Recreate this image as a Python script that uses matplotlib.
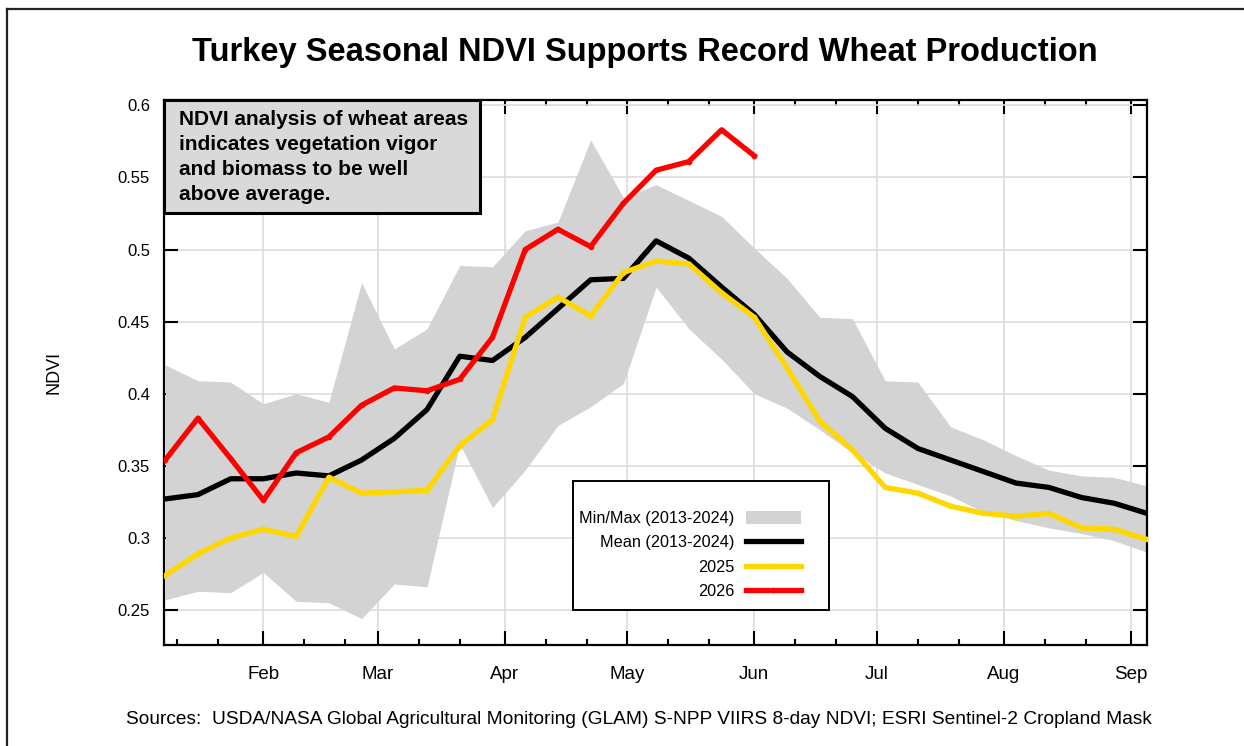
import matplotlib
matplotlib.use("Agg")
import matplotlib.pyplot as plt
from matplotlib.lines import Line2D
from matplotlib.patches import Rectangle, Patch

plt.rcParams['font.family'] = ['Liberation Sans', 'DejaVu Sans']

# day of year (Jan 1 = 0) of each 8-day composite
days = [7, 15, 23, 31, 39, 47, 55, 63, 71, 79, 87, 95, 103, 111, 119, 127,
        135, 143, 151, 159, 167, 175, 183, 191, 199, 207, 215, 223, 231, 239, 247]

ndvi_min = [0.257, 0.263, 0.262, 0.276, 0.256, 0.255, 0.244, 0.268, 0.266, 0.365,
            0.321, 0.347, 0.378, 0.391, 0.407, 0.474, 0.445, 0.424, 0.400, 0.390,
            0.375, 0.359, 0.345, 0.337, 0.329, 0.318, 0.312, 0.307, 0.303, 0.298, 0.290]
ndvi_max = [0.420, 0.409, 0.408, 0.393, 0.400, 0.394, 0.477, 0.431, 0.445, 0.489,
            0.488, 0.513, 0.519, 0.576, 0.536, 0.545, 0.534, 0.523, 0.501, 0.480,
            0.453, 0.452, 0.409, 0.408, 0.377, 0.368, 0.357, 0.347, 0.343, 0.342, 0.336]
ndvi_mean = [0.327, 0.330, 0.341, 0.341, 0.345, 0.343, 0.354, 0.369, 0.389, 0.426,
             0.423, 0.439, 0.459, 0.479, 0.480, 0.506, 0.494, 0.474, 0.455, 0.429,
             0.412, 0.398, 0.376, 0.362, 0.354, 0.346, 0.338, 0.335, 0.328, 0.324, 0.317]
ndvi_2025 = [0.274, 0.289, 0.300, 0.306, 0.301, 0.342, 0.331, 0.332, 0.333, 0.364,
             0.382, 0.453, 0.467, 0.454, 0.484, 0.492, 0.490, 0.470, 0.453, 0.418,
             0.381, 0.361, 0.335, 0.331, 0.322, 0.317, 0.315, 0.317, 0.307, 0.306, 0.299]
ndvi_2026 = [0.354, 0.383, 0.355, 0.326, 0.359, 0.370, 0.392, 0.404, 0.402, 0.410,
             0.439, 0.500, 0.514, 0.502, 0.532, 0.555, 0.561, 0.583, 0.565]

month_starts = [0, 31, 59, 90, 120, 151, 181, 212, 243]
month_labels = ['Feb', 'Mar', 'Apr', 'May', 'Jun', 'Jul', 'Aug', 'Sep']

fig = plt.figure(figsize=(12.44, 7.46), dpi=100)
ax = fig.add_axes([164 / 1244, 1 - 645 / 746, 983 / 1244, 545 / 746])

ax.fill_between(days, ndvi_min, ndvi_max, color='#d3d3d3', lw=0, zorder=1)
ax.plot(days, ndvi_mean, color='black', lw=3.8, zorder=3)
ax.plot(days, ndvi_2025, color='#ffd700', lw=3.8, marker='o', ms=3, zorder=4)
ax.plot(days[:len(ndvi_2026)], ndvi_2026, color='#ff0000', lw=3.8, marker='o', ms=3, zorder=5)

ax.set_xticks(month_starts[1:])
ax.set_xticklabels(month_labels)
ax.set_xticks([m + d for m in month_starts for d in (10, 20)], minor=True)
ax.set_yticks([0.25, 0.3, 0.35, 0.4, 0.45, 0.5, 0.55, 0.6])
ax.set_yticklabels(['0.25', '0.3', '0.35', '0.4', '0.45', '0.5', '0.55', '0.6'])
ax.set_xlim(6.7, 247)
ax.set_ylim(0.2257, 0.6037)
ax.tick_params(which='both', direction='in', top=True, right=True, width=1.5, colors='black')
ax.tick_params(axis='x', which='major', length=10, pad=15, labelsize=13.5)
ax.tick_params(axis='x', which='minor', length=4)
ax.tick_params(axis='y', which='major', length=10, pad=10, labelsize=12)
ax.grid(True, which='major', color='#dcdcdc', lw=1.2, zorder=0)
ax.set_axisbelow(True)
for s in ax.spines.values():
    s.set_linewidth(1.6)
ax.set_ylabel('NDVI', fontsize=13, labelpad=40)

# text box in top-left corner
ax.add_patch(Rectangle((0, 0.7927), 0.3215, 0.2073, transform=ax.transAxes,
                       facecolor='#d9d9d9', edgecolor='black', lw=2.2, zorder=6, clip_on=False))
ax.text(0.0153, 0.982, 'NDVI analysis of wheat areas\nindicates vegetation vigor\n'
        'and biomass to be well\nabove average.', transform=ax.transAxes,
        fontsize=15, fontweight='bold', va='top', ha='left', linespacing=1.4, zorder=7)

# legend box drawn by hand, entries placed inside it
fig.add_artist(Rectangle((573 / 1244, 1 - 610 / 746), 256 / 1244, 129 / 746,
                         transform=fig.transFigure, facecolor='white', edgecolor='black',
                         lw=1.4, zorder=5))
handles = [Patch(facecolor='#d3d3d3', edgecolor='none'),
           Line2D([], [], color='black', lw=3.8),
           Line2D([], [], color='#ffd700', lw=3.8, marker='o', ms=3),
           Line2D([], [], color='#ff0000', lw=3.8, marker='o', ms=3)]
labels = ['Min/Max (2013-2024)', 'Mean (2013-2024)', '2025', '2026']
leg = fig.legend(handles, labels, loc='upper left', bbox_to_anchor=(579 / 1244, 1 - 511 / 746),
                 markerfirst=False, frameon=False, fontsize=11.7, handlelength=3.4,
                 handleheight=0.8, handletextpad=0.7, labelspacing=0.58, borderpad=0,
                 borderaxespad=0)
leg.set_zorder(6)

fig.text(0.518, 1 - 53 / 746, 'Turkey Seasonal NDVI Supports Record Wheat Production',
         ha='center', va='center', fontsize=23.5, fontweight='bold')
fig.text(0.514, 1 - 720 / 746,
         'Sources:  USDA/NASA Global Agricultural Monitoring (GLAM) S-NPP VIIRS 8-day NDVI; '
         'ESRI Sentinel-2 Cropland Mask', ha='center', va='center', fontsize=13.8)

# frame lines on top and left edge of the picture
fig.add_artist(Line2D([7 / 1244, 1], [1 - 9 / 746, 1 - 9 / 746], transform=fig.transFigure,
                      color='#222222', lw=1.6))
fig.add_artist(Line2D([7 / 1244, 7 / 1244], [0, 1 - 9 / 746], transform=fig.transFigure,
                      color='#222222', lw=1.6))

fig.savefig('out.png', dpi=100)
